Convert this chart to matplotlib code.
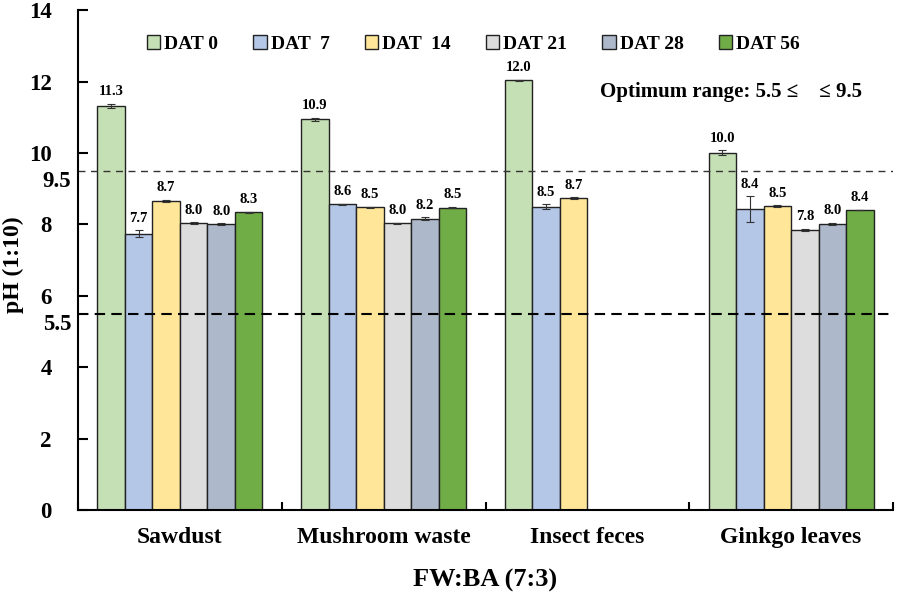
import matplotlib.pyplot as plt
import matplotlib.transforms as mtransforms
import numpy as np

plt.rcParams['font.family'] = 'Liberation Serif'
plt.rcParams['font.weight'] = 'bold'

materials = ["Sawdust", "Mushroom waste", "Insect feces", "Ginkgo leaves"]
days = ["DAT 0", "DAT  7", "DAT  14", "DAT 21", "DAT 28", "DAT 56"]
colors = ['#C5E0B4', '#B4C7E7', '#FFE699', '#DDDDDD', '#ADB9CA', '#70AD47']

dat0 = [11.32, 10.94, 12.03, 10.01]
dat7 = [7.74, 8.56, 8.50, 8.43]
dat14 = [8.66, 8.48, 8.74, 8.52]
dat21 = [8.04, 8.03, np.nan, 7.84]
dat28 = [8.01, 8.16, np.nan, 8.01]
dat56 = [8.34, 8.47, np.nan, 8.40]

err0 = [0.05, 0.05, 0.02, 0.06]
err7 = [0.10, 0.02, 0.06, 0.36]
err14 = [0.03, 0.02, 0.02, 0.02]
err21 = [0.02, 0.01, np.nan, 0.03]
err28 = [0.02, 0.04, np.nan, 0.03]
err56 = [0.01, 0.02, np.nan, 0.01]

series = [dat0, dat7, dat14, dat21, dat28, dat56]
errors = [err0, err7, err14, err21, err28, err56]

ph_low = 5.5
ph_high = 9.5

fig = plt.figure(figsize=(8.97, 5.97), dpi=100)
ax = fig.add_axes([0.087, 0.1457, 0.9085, 0.8373])

bar_width = 0.135
index = np.arange(len(materials))

for i, (vals, errs) in enumerate(zip(series, errors)):
    pos = index + (i - 2.5) * bar_width
    ax.bar(pos, vals, bar_width, color=colors[i], edgecolor='#222222',
           linewidth=1.0, label=days[i])
    ax.errorbar(pos, vals, yerr=errs, fmt='none', ecolor='#333333',
                elinewidth=0.8, capsize=3, capthick=0.8)
    for x, v, e in zip(pos, vals, errs):
        if np.isnan(v):
            continue
        ax.annotate(f"{v:.1f}", (x, v + e), xytext=(0, 4),
                    textcoords='offset points', ha='center', va='bottom',
                    fontsize=10.5, fontweight='bold')

ax.axhline(ph_high, color='#333333', linestyle=(0, (5, 4)), linewidth=1.0)
ax.axhline(ph_low, color='black', linestyle=(0, (5, 3)), linewidth=1.5)

ax.set_xlim(-0.5, 3.5)
ax.set_ylim(0, 14)
ax.set_yticks(np.arange(0, 15, 2))
ax.set_yticklabels([str(v) for v in range(0, 15, 2)], fontsize=16.5, fontweight='bold')
ax.tick_params(axis='y', direction='in', length=7, width=1.5, pad=19)

# extra labels for the optimum range limits
trans = mtransforms.blended_transform_factory(ax.transAxes, ax.transData)
for v in [ph_high, ph_low]:
    ax.annotate(f"{v}", (0, v), xycoords=trans, xytext=(-5, 0),
                textcoords='offset points', ha='right', va='top',
                fontsize=16.5, fontweight='bold', annotation_clip=False)

ax.set_xticks(index)
ax.set_xticklabels(materials, fontsize=17, fontweight='bold')
ax.tick_params(axis='x', length=0, pad=12)
ax.set_xticks(np.arange(-0.5, 3.6, 1.0), minor=True)
ax.tick_params(axis='x', which='minor', direction='in', length=6, width=1.5)

ax.spines['top'].set_visible(False)
ax.spines['right'].set_visible(False)
ax.spines['left'].set_linewidth(1.5)
ax.spines['bottom'].set_linewidth(1.5)

ax.set_ylabel("pH (1:10)", fontsize=17, fontweight='bold')
ax.yaxis.set_label_coords(-0.066, 0.49)
ax.set_xlabel("FW:BA (7:3)", fontsize=19, fontweight='bold')
ax.xaxis.set_label_coords(0.5, -0.118)

ax.legend(loc='upper center', bbox_to_anchor=(0.485, 0.985), ncol=6,
          frameon=False, fontsize=14, handlelength=0.7, handleheight=0.7,
          handletextpad=0.2, columnspacing=1.8)

ax.text(0.962, 0.836, "Optimum range: 5.5 \u2264    \u2264 9.5", transform=ax.transAxes,
        ha='right', va='center', fontsize=15, fontweight='bold')

fig.savefig('out.png', dpi=100)
